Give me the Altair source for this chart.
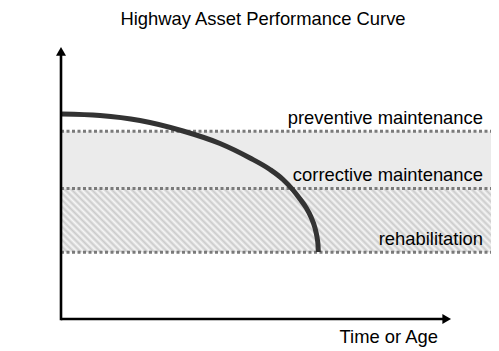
import altair as alt
import pandas as pd

# ---- data (time units 0-100, performance units 0-100) ----
curve_time = [0.23, 9.07, 18.37, 28.37, 36.98, 43.95, 48.60, 51.63, 53.95, 55.58,
              56.98, 58.14, 59.07, 59.53, 59.77, 59.84]
curve_perf = [75.37, 74.82, 72.98, 69.12, 64.52, 59.19, 54.96, 51.29, 47.43, 44.12,
              40.99, 37.50, 33.46, 30.15, 27.21, 24.63]

zone_labels = ["preventive maintenance", "corrective maintenance", "rehabilitation"]
zone_levels = [69.0, 48.0, 24.5]

band_start = 0.0
band_end = 100.0
axis_x_end = 89.7
axis_y_end = 98.4
x_title_pos = 87.67

FONT = "Liberation Sans"

xs = alt.Scale(domain=[0, 100], nice=False, zero=False)
ys = alt.Scale(domain=[0, 100], nice=False, zero=False)

curve_df = pd.DataFrame({"t": curve_time, "p": curve_perf})
levels_df = pd.DataFrame({"level": zone_levels, "label": zone_labels})
band_top = pd.DataFrame({"x": [band_start], "x2": [band_end], "y": [zone_levels[0]], "y2": [zone_levels[1]]})
band_low = pd.DataFrame({"x": [band_start], "x2": [band_end], "y": [zone_levels[1]], "y2": [zone_levels[2]]})

# hatch texture for the lower band (diagonal stripes via a repeating linear gradient)
N = 74
stops = []
for k in range(N):
    stops.append(alt.GradientStop(offset=k / N, color="#cbcbcb"))
    stops.append(alt.GradientStop(offset=(k + 0.5) / N, color="#f6f6f6"))
stops.append(alt.GradientStop(offset=1, color="#cbcbcb"))
hatch = alt.LinearGradient(gradient="linear", stops=stops, x1=0, y1=1, x2=1.1239, y2=0.8328)

y_axis = alt.Axis(
    title=["Highway Asset", "Performance Measures"], domain=False, ticks=False, labels=False, grid=False,
    titleFont=FONT, titleFontSize=18, titleFontWeight="normal", titleColor="black",
    titleX=-30, titleY=135, titleAngle=270, titleAlign="center", titleBaseline="middle",
    titleLineHeight=22,
)

top_rect = alt.Chart(band_top).mark_rect(fill="#ebebeb").encode(
    x=alt.X("x:Q", scale=xs, axis=None),
    x2="x2:Q",
    y=alt.Y("y:Q", scale=ys, axis=y_axis),
    y2="y2:Q",
)
low_rect = alt.Chart(band_low).mark_rect(fill=hatch).encode(
    x=alt.X("x:Q", scale=xs, axis=None),
    x2="x2:Q",
    y=alt.Y("y:Q", scale=ys, axis=None),
    y2="y2:Q",
)
dotted = alt.Chart(levels_df).mark_rule(
    color="#7a7a7a", strokeWidth=3, strokeDash=[3, 2.5]
).encode(
    x=alt.datum(band_start, scale=xs, axis=None),
    x2=alt.datum(band_end),
    y=alt.Y("level:Q", scale=ys, axis=None),
)
curve = alt.Chart(curve_df).mark_line(
    color="#333333", strokeWidth=5, interpolate="monotone", strokeCap="butt"
).encode(
    x=alt.X("t:Q", scale=xs, axis=None),
    y=alt.Y("p:Q", scale=ys, axis=None),
    order="t:Q",
)
labels = alt.Chart(levels_df).mark_text(
    font=FONT, fontSize=18.4, color="black", align="right", baseline="alphabetic", dx=-8, dy=-7.5
).encode(
    x=alt.datum(100, scale=xs, axis=None),
    y=alt.Y("level:Q", scale=ys, axis=None),
    text="label:N",
)
x_title = alt.Chart(pd.DataFrame({"a": [0]})).mark_text(
    font=FONT, fontSize=18.4, color="black", align="right", baseline="alphabetic", dy=24,
    text="Time or Age",
).encode(
    x=alt.datum(x_title_pos, scale=xs, axis=None),
    y=alt.datum(0, scale=ys, axis=None),
)
y_line = alt.Chart(pd.DataFrame({"a": [0]})).mark_rule(color="black", strokeWidth=2.6).encode(
    x=alt.datum(0, scale=xs, axis=None),
    y=alt.datum(-0.5, scale=ys, axis=None),
    y2=alt.datum(axis_y_end),
)
x_line = alt.Chart(pd.DataFrame({"a": [0]})).mark_rule(color="black", strokeWidth=2.4).encode(
    x=alt.datum(0, scale=xs, axis=None),
    x2=alt.datum(axis_x_end),
    y=alt.datum(0, scale=ys, axis=None),
)
arrow_up = alt.Chart(pd.DataFrame({"a": [0]})).mark_point(
    shape="triangle-up", filled=True, color="black", size=100, opacity=1
).encode(
    x=alt.datum(0, scale=xs, axis=None),
    y=alt.datum(axis_y_end, scale=ys, axis=None),
)
arrow_right = alt.Chart(pd.DataFrame({"a": [0]})).mark_point(
    shape="triangle-right", filled=True, color="black", size=100, opacity=1
).encode(
    x=alt.datum(axis_x_end, scale=xs, axis=None),
    y=alt.datum(0, scale=ys, axis=None),
)

chart = alt.layer(
    top_rect, low_rect, dotted, curve, labels, x_title, y_line, x_line, arrow_up, arrow_right
).properties(
    width=430,
    height=272,
    title=alt.TitleParams(
        "Highway Asset Performance Curve", font=FONT, fontSize=18.4, fontWeight="normal",
        color="black", anchor="middle", dx=-13, offset=19,
    ),
    autosize=alt.AutoSizeParams(type="none"),
    padding={"left": 53, "top": 39, "right": 0, "bottom": 28},
).configure_view(stroke=None)

chart.save("out.html", embed_options={"renderer": "svg", "actions": False})
